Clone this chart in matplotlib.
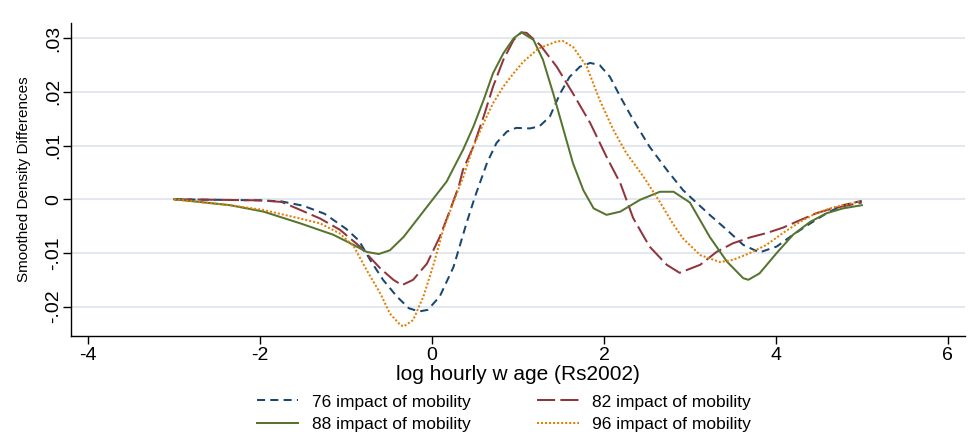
import matplotlib
matplotlib.use("Agg")
import matplotlib.pyplot as plt
from matplotlib import font_manager

plt.rcParams['font.family'] = ['Liberation Sans', 'DejaVu Sans']

# ---- data ----
x76 = [-3.0, -2.5, -2.0, -1.75, -1.5, -1.25, -1.0, -0.85, -0.72, -0.57, -0.41, -0.27, -0.15, -0.05,
       0.09, 0.25, 0.4, 0.5, 0.64, 0.75, 0.87, 0.98, 1.14, 1.25, 1.37, 1.49, 1.6, 1.72, 1.84, 1.95,
       2.07, 2.19, 2.34, 2.53, 2.73, 2.92, 3.04, 3.23, 3.43, 3.62, 3.81, 4.01, 4.2, 4.4, 4.59, 4.78, 5.0]
y76 = [0.0, -0.0001, -0.0002, -0.0004, -0.0012, -0.0027, -0.0055, -0.0077, -0.0113, -0.0150, -0.0181,
       -0.0203, -0.0209, -0.0206, -0.0181, -0.0126, -0.0045, 0.0005, 0.0068, 0.0105, 0.0126, 0.0133,
       0.0132, 0.0136, 0.0154, 0.0197, 0.0228, 0.0247, 0.0254, 0.0250, 0.0228, 0.0191, 0.0148, 0.0098,
       0.0055, 0.0017, -0.0001, -0.0029, -0.0057, -0.0085, -0.0099, -0.0088, -0.0066, -0.0045, -0.0026,
       -0.0011, -0.0003]

x82 = [-3.0, -2.5, -2.0, -1.75, -1.53, -1.3, -1.07, -0.84, -0.6, -0.45, -0.35, -0.22, -0.06, 0.09, 0.21,
       0.31, 0.36, 0.48, 0.6, 0.71, 0.83, 0.95, 1.04, 1.1, 1.26, 1.45, 1.64, 1.84, 2.03, 2.19, 2.34, 2.53,
       2.73, 2.88, 3.12, 3.31, 3.5, 3.7, 3.89, 4.08, 4.28, 4.47, 4.66, 5.0]
y82 = [0.0, -0.0001, -0.0002, -0.0005, -0.0020, -0.0036, -0.0057, -0.0088, -0.0129, -0.0150, -0.0160,
       -0.0150, -0.0120, -0.0070, -0.0020, 0.0024, 0.0055, 0.0098, 0.0154, 0.0210, 0.0260, 0.0297, 0.0311,
       0.0310, 0.0287, 0.0247, 0.0197, 0.0142, 0.0079, 0.0030, -0.0035, -0.0088, -0.0122, -0.0137, -0.0122,
       -0.0098, -0.0082, -0.0071, -0.0063, -0.0053, -0.0039, -0.0026, -0.0017, -0.0006]

x88 = [-3.0, -2.35, -1.96, -1.53, -1.15, -0.95, -0.76, -0.62, -0.49, -0.33, -0.18, -0.02, 0.17, 0.25, 0.36,
       0.48, 0.6, 0.71, 0.83, 0.95, 1.04, 1.18, 1.29, 1.41, 1.53, 1.64, 1.76, 1.88, 2.03, 2.19, 2.42, 2.65,
       2.81, 3.0, 3.23, 3.43, 3.62, 3.68, 3.81, 4.01, 4.2, 4.4, 4.59, 4.78, 5.0]
y88 = [0.0, -0.0011, -0.0023, -0.0045, -0.0066, -0.0082, -0.0098, -0.0102, -0.0095, -0.0070, -0.0039,
       -0.0006, 0.0033, 0.0058, 0.0092, 0.0135, 0.0185, 0.0235, 0.0272, 0.0300, 0.0311, 0.0297, 0.0260,
       0.0197, 0.0129, 0.0067, 0.0017, -0.0017, -0.0029, -0.0023, -0.0001, 0.0014, 0.0014, -0.0006,
       -0.0070, -0.0116, -0.0147, -0.0150, -0.0138, -0.0100, -0.0066, -0.0042, -0.0026, -0.0017, -0.0011]

x96 = [-3.0, -2.35, -1.96, -1.53, -1.3, -1.07, -0.91, -0.76, -0.6, -0.49, -0.37, -0.33, -0.22, -0.1, 0.02,
       0.13, 0.25, 0.36, 0.48, 0.6, 0.71, 0.83, 0.95, 1.06, 1.24, 1.45, 1.52, 1.64, 1.8, 1.95, 2.11, 2.26,
       2.46, 2.65, 2.8, 2.92, 3.12, 3.35, 3.5, 3.7, 3.89, 4.08, 4.28, 4.47, 4.67, 5.0]
y96 = [0.0, -0.0011, -0.0020, -0.0036, -0.0045, -0.0064, -0.0088, -0.0132, -0.0176, -0.0213, -0.0234,
       -0.0237, -0.0225, -0.0181, -0.0120, -0.0057, -0.0005, 0.0040, 0.0098, 0.0142, 0.0179, 0.0210,
       0.0235, 0.0256, 0.0281, 0.0294, 0.0295, 0.0284, 0.0247, 0.0185, 0.0129, 0.0086, 0.0042, -0.0005,
       -0.0045, -0.0073, -0.0104, -0.0117, -0.0113, -0.0100, -0.0085, -0.0063, -0.0042, -0.0026, -0.0015,
       -0.0003]

labels = ["76 impact of mobility", "82 impact of mobility",
          "88 impact of mobility", "96 impact of mobility"]
xticks = [-4, -2, 0, 2, 4, 6]
yticks = [-0.02, -0.01, 0, 0.01, 0.02, 0.03]
yticklabels = ["-.02", "-.01", "0", ".01", ".02", ".03"]

# narrow font for the y title if available
installed = {f.name for f in font_manager.fontManager.ttflist}
ytitle_family = ['Liberation Sans Narrow', 'Liberation Sans'] if 'Liberation Sans Narrow' in installed \
    else ['Liberation Sans', 'DejaVu Sans']
ytitle_size = 13.5 if 'Liberation Sans Narrow' in installed else 11

# ---- figure ----
fig = plt.figure(figsize=(9.72, 4.32), dpi=100)
ax = fig.add_axes([71/972, 1-336/432, (965-71)/972, (336-23)/432])

lw = 1.45
l76, = ax.plot(x76, y76, color="#1a476f", lw=lw, linestyle=(0, (4, 2.6)), label=labels[0])
l82, = ax.plot(x82, y82, color="#90353b", lw=lw, linestyle=(0, (9, 2.6)), label=labels[1])
l88, = ax.plot(x88, y88, color="#55752f", lw=lw, linestyle="-", label=labels[2])
l96, = ax.plot(x96, y96, color="#e37e00", lw=lw, linestyle=(0, (1, 1)), label=labels[3])

ax.set_xlim(-4.2, 6.2)
ax.set_ylim(-0.02547, 0.03284)
ax.set_xticks(xticks)
ax.set_xticklabels([str(t) for t in xticks])
ax.set_yticks(yticks)
ax.set_yticklabels(yticklabels, rotation=90, va="center")

ax.grid(axis="y", color="#dfe5ef", lw=1.3)
ax.set_axisbelow(True)
for s in ["top", "right"]:
    ax.spines[s].set_visible(False)
for s in ["left", "bottom"]:
    ax.spines[s].set_color("black")
    ax.spines[s].set_linewidth(1.0)

ax.tick_params(axis="both", direction="out", length=5.5, width=1.0, colors="black", labelsize=14)
ax.tick_params(axis="x", pad=2.5)
ax.tick_params(axis="y", pad=1)

ax.set_xlabel("log hourly w age (Rs2002)", fontsize=15, labelpad=0.5)
ax.set_ylabel("Smoothed Density Differences", fontsize=ytitle_size, labelpad=10, family=ytitle_family)

fig.legend([l76, l88, l82, l96], [labels[0], labels[2], labels[1], labels[3]],
           ncol=2, loc="center", bbox_to_anchor=(504/972, 1-413/432), frameon=False,
           fontsize=12.5, handlelength=2.4, handletextpad=0.8, columnspacing=3.8,
           labelspacing=0.4)

fig.savefig("out.png", dpi=100)
